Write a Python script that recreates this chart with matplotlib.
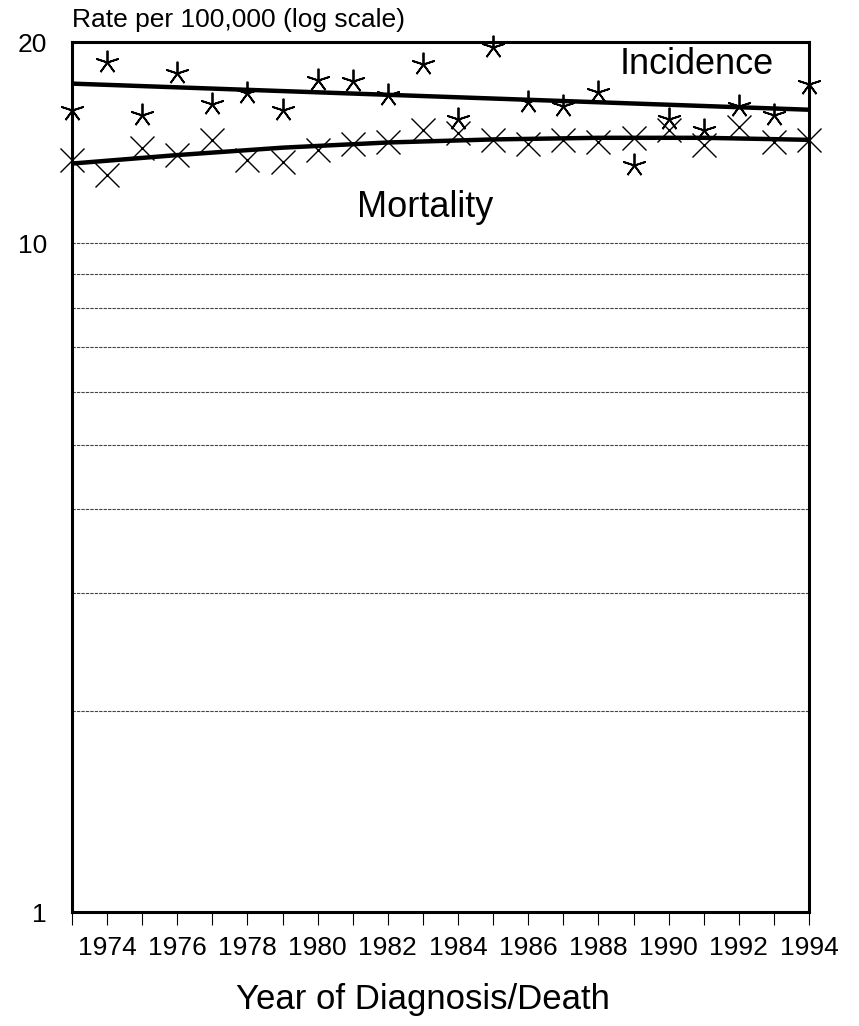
import matplotlib
matplotlib.use('Agg')
import matplotlib.pyplot as plt
from matplotlib.ticker import FixedLocator, NullLocator, FixedFormatter

plt.rcParams['font.family'] = ['Liberation Sans', 'DejaVu Sans']

# Rates per 100,000
years = list(range(1973, 1995))
incidence = [15.8, 18.66, 15.54, 17.97, 16.14, 16.78, 15.8, 17.53, 17.49, 16.64, 18.56,
             15.36, 19.65, 16.26, 16.03, 16.83, 13.08, 15.36, 14.76, 16.03, 15.54, 17.33]
mortality = [13.31, 12.67, 13.9, 13.54, 14.29, 13.31, 13.23, 13.77, 14.09, 14.17, 14.76,
             14.6, 14.25, 14.09, 14.25, 14.17, 14.39, 14.76, 14.01, 14.93, 14.17, 14.29]

# fitted trend lines
inc_trend_years = [1973, 1994]
inc_trend = [17.33, 15.84]
mort_trend_years = [1973, 1976, 1979, 1982, 1985, 1988, 1991, 1994]
mort_trend = [13.16, 13.55, 13.9, 14.15, 14.3, 14.38, 14.38, 14.28]

year_labels = [str(y) if y % 2 == 0 else '' for y in years]
y_ticks = [1, 10, 20]
grid_vals = [2, 3, 4, 5, 6, 7, 8, 9, 10]

fig = plt.figure(figsize=(8.59, 10.26), dpi=100)
ax = fig.add_axes([72 / 859, 1 - 912 / 1026, (809 - 72) / 859, (912 - 42) / 1026])

ax.set_yscale('log')
ax.set_xlim(1973, 1994)
ax.set_ylim(1, 20)

for g in grid_vals:
    ax.axhline(g, color='#444444', lw=0.8, ls=(0, (3, 1)), zorder=1)

ax.plot(years, incidence, ls='none', marker=(5, 2, 0), markersize=17, mew=1.3,
        color='black', clip_on=False, zorder=3)
ax.plot(years, mortality, ls='none', marker='x', markersize=17, mew=1.0,
        color='black', clip_on=False, zorder=3)

ax.plot(inc_trend_years, inc_trend, color='black', lw=3.2, zorder=4, solid_capstyle='butt')
ax.plot(mort_trend_years, mort_trend, color='black', lw=3.2, zorder=4, solid_capstyle='butt')

ax.text(1990.8, 18.5, 'Incidence', fontsize=26, ha='center', va='center')
ax.text(1983.06, 11.32, 'Mortality', fontsize=26, ha='center', va='center')

ax.xaxis.set_major_locator(FixedLocator(years))
ax.xaxis.set_major_formatter(FixedFormatter(year_labels))
ax.yaxis.set_major_locator(FixedLocator(y_ticks))
ax.yaxis.set_major_formatter(FixedFormatter([str(v) for v in y_ticks]))
ax.yaxis.set_minor_locator(NullLocator())
ax.tick_params(axis='x', direction='out', length=9, width=0.8, pad=8, labelsize=19)
ax.tick_params(axis='y', length=0, pad=18, labelsize=19)

for s in ax.spines.values():
    s.set_linewidth(2.2)

fig.text(72 / 859, 1 - 20 / 1026, 'Rate per 100,000 (log scale)', fontsize=19,
         ha='left', va='center')
fig.text(423 / 859, 1 - 1000 / 1026, 'Year of Diagnosis/Death', fontsize=25,
         ha='center', va='center')

fig.savefig('out.png', dpi=100, facecolor='white')
